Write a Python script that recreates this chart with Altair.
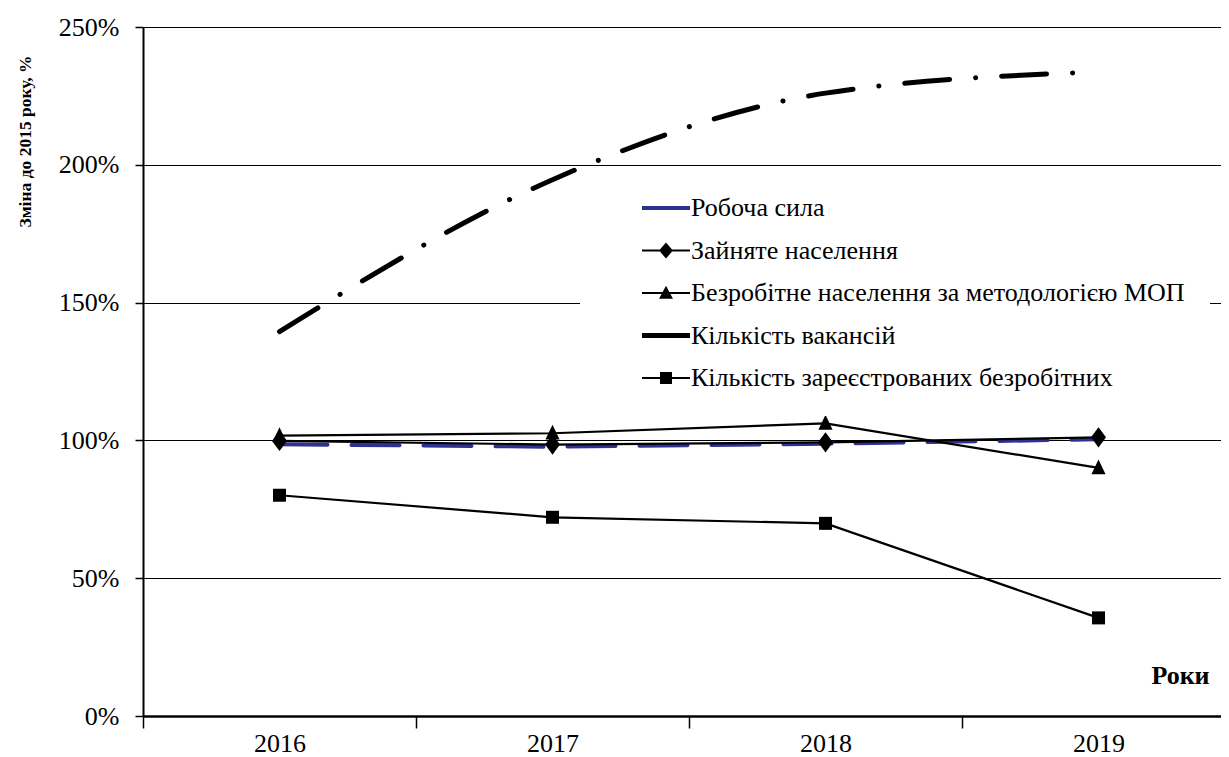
import altair as alt
import pandas as pd

# ---------------- data ----------------
years = ["2016", "2017", "2018", "2019"]
series_names = [
    "Робоча сила",
    "Зайняте населення",
    "Безробітне населення за методологією МОП",
    "Кількість вакансій",
    "Кількість зареєстрованих безробітних",
]
labour_force = [98.6, 97.7, 98.8, 100.4]
employed = [99.8, 98.5, 99.3, 101.1]
unemployed_ilo = [101.7, 102.6, 106.2, 90.0]
vacancies = [139.5, 194.6, 226.0, 233.7]
registered = [80.1, 72.1, 69.9, 35.6]
y_ticks = [0, 50, 100, 150, 200, 250]

series_values = [labour_force, employed, unemployed_ilo, vacancies, registered]
rows = []
for name, vals in zip(series_names, series_values):
    for yr, v in zip(years, vals):
        rows.append({"year": yr, "series": name, "value": v / 100.0})
df = pd.DataFrame(rows)

FONT = "'Liberation Serif', 'Times New Roman', Times, serif"
NAVY = "#2E3192"

x_enc = alt.X(
    "year:O",
    scale=alt.Scale(type="band", domain=years, paddingInner=0, paddingOuter=0),
    bandPosition=0.5,
    axis=alt.Axis(
        title="Роки",
        titleFont=FONT,
        titleFontSize=26,
        titleFontWeight="bold",
        titleColor="black",
        titleX=1037,
        titleY=-41,
        titleAlign="center",
        titleBaseline="middle",
        labelFont=FONT,
        labelFontSize=26,
        labelFontWeight="normal",
        labelColor="black",
        labelAngle=0,
        labelPadding=2,
        tickBand="extent",
        tickSize=12,
        tickColor="black",
        tickWidth=1.5,
        domainColor="black",
        domainWidth=2.5,
        grid=False,
    ),
)

y_enc = alt.Y(
    "value:Q",
    scale=alt.Scale(domain=[0, 2.5], nice=False, zero=True),
    axis=alt.Axis(
        values=[t / 100.0 for t in y_ticks],
        format=".0%",
        title="Зміна до 2015 року, %",
        titleFont=FONT,
        titleFontSize=17.5,
        titleFontWeight="bold",
        titleColor="black",
        titleX=-118,
        titleY=114,
        titleAngle=270,
        titleAlign="center",
        titleBaseline="middle",
        labelFont=FONT,
        labelFontSize=26,
        labelFontWeight="normal",
        labelColor="black",
        labelPadding=16,
        tickSize=8,
        tickColor="black",
        tickWidth=1.5,
        domainColor="black",
        domainWidth=2,
        grid=True,
        gridColor="black",
        gridWidth=1.2,
    ),
)

base = alt.Chart(df)


def series_data(name):
    return base.transform_filter(alt.datum.series == name)


layers = []

# plain lines
layers.append(
    series_data(series_names[0]).mark_line(
        color=NAVY, strokeWidth=4, strokeDash=[48, 24], strokeCap="round"
    ).encode(x=x_enc, y=y_enc)
)
for idx in (1, 2, 4):
    layers.append(
        series_data(series_names[idx]).mark_line(color="black", strokeWidth=2.2).encode(x=x_enc, y=y_enc)
    )
layers.append(
    series_data(series_names[3]).mark_line(
        color="black", strokeWidth=5, strokeDash=[45, 26, 0.1, 26], strokeCap="round",
        interpolate="monotone",
    ).encode(x=x_enc, y=y_enc)
)

# markers
marker_shapes = {
    1: ("M0,-1.35L1,0L0,1.35L-1,0Z", 225),
    2: ("M0,-1.2L1,0.9L-1,0.9Z", 200),
    4: ("square", 169),
}
for idx, (shp, sz) in marker_shapes.items():
    layers.append(
        series_data(series_names[idx]).mark_point(
            shape=shp, size=sz, filled=True, color="black", opacity=1, strokeWidth=0
        ).encode(x=x_enc, y=y_enc)
    )

# legend-only layer (no marks drawn, legend comes from explicit scale domains)
legend_paths = [
    "M-2,-0.17H2V0.17H-2Z",
    "M-2,-0.083H2V0.083H-2ZM0,-0.67L0.58,0L0,0.67L-0.58,0Z",
    "M-2,-0.083H2V0.083H-2ZM0,-0.6L0.58,0.48L-0.58,0.48Z",
    "M-2,-0.21H2V0.21H-2Z",
    "M-2,-0.083H2V0.083H-2ZM-0.5,-0.5H0.5V0.5H-0.5Z",
]
legend_colors = [NAVY, "black", "black", "black", "black"]

legend_def = alt.Legend(
    title=None,
    orient="none",
    legendX=437,
    legendY=143,
    padding=25,
    fillColor="white",
    symbolSize=576,
    symbolOffset=48,
    symbolStrokeWidth=0,
    labelOffset=12,
    rowPadding=16.5,
    labelFont=FONT,
    labelFontSize=26,
    labelFontWeight="normal",
    labelColor="black",
    labelLimit=1000,
    labelExpr="datum.label + '\u00a0\u00a0\u00a0\u00a0\u00a0\u00a0\u00a0\u00a0'",
)

layers.append(
    base.transform_filter("false").mark_point(filled=True, opacity=1, strokeWidth=0, size=576).encode(
        x=x_enc,
        y=y_enc,
        color=alt.Color("series:N", scale=alt.Scale(domain=series_names, range=legend_colors), legend=legend_def),
        shape=alt.Shape("series:N", scale=alt.Scale(domain=series_names, range=legend_paths), legend=legend_def),
    )
)

chart = (
    alt.layer(*layers)
    .properties(
        width=1092,
        height=689,
        padding={"left": 135, "top": 19, "right": -14, "bottom": 40},
        autosize=alt.AutoSizeParams(type="none"),
        background="white",
    )
    .configure_view(stroke=None)
    .configure(font=FONT)
)

chart.save("out.html", embed_options={"renderer": "svg", "actions": False})
